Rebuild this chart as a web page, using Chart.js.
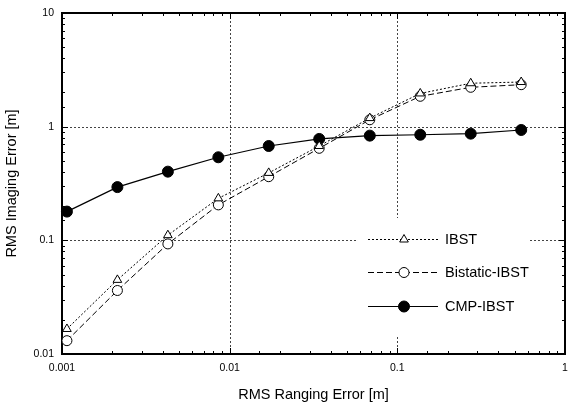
<!DOCTYPE html>
<html>
<head>
<meta charset="utf-8">
<script src="https://cdn.jsdelivr.net/npm/chart.js@4.4.1/dist/chart.umd.min.js"></script>
<style>
  html, body { margin: 0; padding: 0; background: #fff; }
</style>
</head>
<body>
<canvas id="chart" width="568" height="405"></canvas>
<script>
// ── Data ──────────────────────────────────────────────────
const rangingError = [0.00107, 0.00214, 0.00428, 0.00856, 0.0171, 0.0342, 0.0685, 0.137, 0.274, 0.548];
const ibst     = [0.0166, 0.0449, 0.111, 0.234, 0.392, 0.676, 1.19, 1.96, 2.41, 2.47];
const bistatic = [0.0131, 0.0362, 0.093, 0.205, 0.363, 0.645, 1.15, 1.85, 2.22, 2.34];
const cmp      = [0.179, 0.294, 0.402, 0.538, 0.676, 0.78, 0.834, 0.849, 0.868, 0.935];
const xTickLabels = ["0.001", "0.01", "0.1", "1"];   // decades 10^-3 .. 10^0
const yTickLabels = ["0.01", "0.1", "1", "10"];      // decades 10^-2 .. 10^1

const FONT = "'Liberation Sans', Arial, Helvetica, sans-serif";
const toPts = ys => rangingError.map((x, i) => ({ x, y: ys[i] }));
const decade = v => { const l = Math.log10(v); return Math.abs(l - Math.round(l)) < 1e-6 ? Math.round(l) : null; };
// stop the scales from reserving room for the half-overhanging end labels
const noPad = s => {
  s.paddingLeft = s.paddingRight = s.paddingTop = s.paddingBottom = 0;
};

// grid, inward ticks, frame and legend box drawn under the data
const framePlugin = {
  id: "frame",
  beforeDatasetsDraw(chart) {
    const { ctx, chartArea: a, scales: { x, y } } = chart;
    ctx.save();
    // dotted decade grid
    ctx.strokeStyle = "#444";
    ctx.lineWidth = 1;
    ctx.setLineDash([2, 2]);
    x.ticks.forEach(t => {
      const d = decade(t.value);
      if (d === null || d === -3 || d === 0) return;
      const px = Math.round(x.getPixelForValue(t.value)) + 0.5;
      ctx.beginPath(); ctx.moveTo(px, a.top); ctx.lineTo(px, a.bottom); ctx.stroke();
    });
    y.ticks.forEach(t => {
      const d = decade(t.value);
      if (d === null || d === -2 || d === 1) return;
      const py = Math.round(y.getPixelForValue(t.value)) + 0.5;
      ctx.beginPath(); ctx.moveTo(a.left, py); ctx.lineTo(a.right, py); ctx.stroke();
    });
    ctx.setLineDash([]);

    // legend background (hides the grid behind it)
    ctx.fillStyle = "#fff";
    ctx.fillRect(358, 218, 172, 118);

    // inward ticks on all four sides
    ctx.strokeStyle = "#000";
    x.ticks.forEach(t => {
      const len = decade(t.value) !== null ? 6 : 3;
      const px = Math.round(x.getPixelForValue(t.value)) + 0.5;
      ctx.beginPath();
      ctx.moveTo(px, a.bottom); ctx.lineTo(px, a.bottom - len);
      ctx.moveTo(px, a.top); ctx.lineTo(px, a.top + len);
      ctx.stroke();
    });
    y.ticks.forEach(t => {
      const len = decade(t.value) !== null ? 6 : 3;
      const py = Math.round(y.getPixelForValue(t.value)) + 0.5;
      ctx.beginPath();
      ctx.moveTo(a.left, py); ctx.lineTo(a.left + len, py);
      ctx.moveTo(a.right, py); ctx.lineTo(a.right - len, py);
      ctx.stroke();
    });

    // frame
    ctx.lineWidth = 2;
    ctx.strokeRect(a.left, a.top, a.right - a.left, a.bottom - a.top);
    ctx.restore();
  },
  afterDraw(chart) {
    // legend entries, styled from the datasets
    const { ctx } = chart;
    const rows = [239, 272, 306];
    ctx.save();
    chart.data.datasets.forEach((ds, i) => {
      const yy = rows[i];
      ctx.strokeStyle = "#000";
      ctx.lineWidth = 1;
      ctx.setLineDash(ds.borderDash || []);
      ctx.beginPath(); ctx.moveTo(368, yy + 0.5); ctx.lineTo(438, yy + 0.5); ctx.stroke();
      ctx.setLineDash([]);
      ctx.fillStyle = ds.pointBackgroundColor;
      Chart.helpers.drawPoint(ctx, { pointStyle: ds.pointStyle, radius: ds.pointRadius, rotation: 0, borderWidth: 1 }, 404, yy + 0.5);
      ctx.fillStyle = "#000";
      ctx.font = `14.5px ${FONT}`;
      ctx.textBaseline = "middle";
      ctx.textAlign = "left";
      ctx.fillText(ds.label, 445, yy + 1);
    });
    ctx.restore();
  },
};

new Chart(document.getElementById("chart"), {
  type: "line",
  data: {
    datasets: [
      {
        label: "IBST",
        data: toPts(ibst), clip: false,
        borderColor: "#000", borderWidth: 1, borderDash: [2, 2],
        pointStyle: "triangle", pointRadius: 5,
        pointBackgroundColor: "#fff", pointBorderColor: "#000", pointBorderWidth: 1,
      },
      {
        label: "Bistatic-IBST",
        data: toPts(bistatic), clip: false,
        borderColor: "#000", borderWidth: 1, borderDash: [6, 3],
        pointStyle: "circle", pointRadius: 5,
        pointBackgroundColor: "#fff", pointBorderColor: "#000", pointBorderWidth: 1,
      },
      {
        label: "CMP-IBST",
        data: toPts(cmp), clip: false,
        borderColor: "#000", borderWidth: 1.2,
        pointStyle: "circle", pointRadius: 5.5,
        pointBackgroundColor: "#000", pointBorderColor: "#000", pointBorderWidth: 1,
      },
    ],
  },
  options: {
    responsive: false,
    animation: false,
    layout: { autoPadding: false, padding: { top: 13, right: 3, left: 0, bottom: 0 } },
    plugins: { legend: { display: false }, tooltip: { enabled: false } },
    elements: { line: { tension: 0 } },
    scales: {
      x: {
        type: "logarithmic",
        min: 0.001, max: 1,
        afterFit: s => { s.height = 51; noPad(s); },
        grid: { display: false, drawTicks: false },
        border: { display: false },
        ticks: {
          autoSkip: false, maxRotation: 0, padding: 8,
          color: "#000", font: { family: FONT, size: 10.5 },
          callback: v => { const d = decade(v); return d === null ? "" : xTickLabels[d + 3]; },
        },
        title: {
          display: true, text: "RMS Ranging Error [m]", color: "#000",
          font: { family: FONT, size: 14.5 }, padding: { top: 0, bottom: 1 },
        },
      },
      y: {
        type: "logarithmic",
        min: 0.01, max: 10,
        afterFit: s => { s.width = 62; noPad(s); },
        grid: { display: false, drawTicks: false },
        border: { display: false },
        ticks: {
          autoSkip: false, padding: 8,
          color: "#000", font: { family: FONT, size: 10.5 },
          callback: v => { const d = decade(v); return d === null ? "" : yTickLabels[d + 2]; },
        },
        title: {
          display: true, text: "RMS Imaging Error [m]", color: "#000",
          font: { family: FONT, size: 14.5 }, padding: { top: 3, bottom: 0 },
        },
      },
    },
  },
  plugins: [framePlugin],
});
</script>
</body>
</html>
